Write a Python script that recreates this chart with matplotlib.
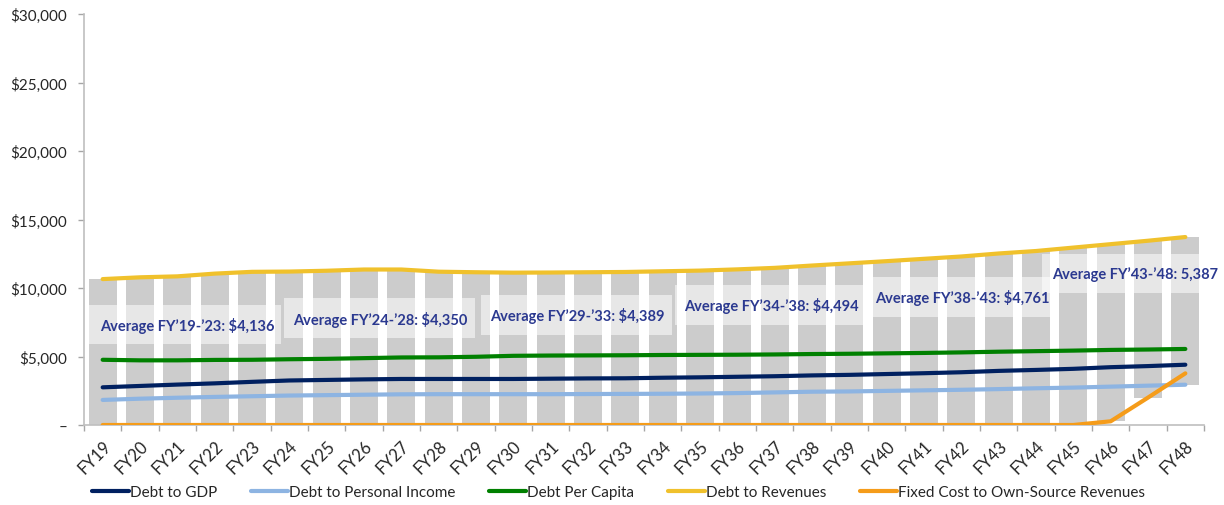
import matplotlib
matplotlib.use('Agg')
import matplotlib.pyplot as plt
import numpy as np
from matplotlib.patches import Rectangle
from matplotlib.ticker import FuncFormatter, FixedLocator

years = ['FY19', 'FY20', 'FY21', 'FY22', 'FY23', 'FY24', 'FY25', 'FY26', 'FY27', 'FY28',
         'FY29', 'FY30', 'FY31', 'FY32', 'FY33', 'FY34', 'FY35', 'FY36', 'FY37', 'FY38',
         'FY39', 'FY40', 'FY41', 'FY42', 'FY43', 'FY44', 'FY45', 'FY46', 'FY47', 'FY48']

debt_to_gdp = [2750, 2850, 2950, 3040, 3150, 3250, 3290, 3330, 3360, 3360,
               3360, 3360, 3380, 3400, 3410, 3450, 3480, 3520, 3560, 3620,
               3660, 3720, 3780, 3850, 3950, 4020, 4100, 4220, 4300, 4400]
debt_to_personal_income = [1830, 1920, 1990, 2050, 2100, 2150, 2180, 2210, 2240, 2250,
                           2250, 2250, 2250, 2260, 2270, 2280, 2300, 2330, 2380, 2430,
                           2450, 2490, 2530, 2570, 2620, 2680, 2730, 2800, 2870, 2940]
debt_per_capita = [4760, 4720, 4720, 4750, 4760, 4800, 4830, 4880, 4930, 4940,
                   4980, 5050, 5070, 5080, 5090, 5110, 5120, 5130, 5150, 5180,
                   5200, 5230, 5260, 5300, 5350, 5390, 5430, 5480, 5510, 5550]
debt_to_revenues = [10650, 10780, 10850, 11050, 11180, 11200, 11260, 11350, 11350, 11190,
                    11150, 11120, 11130, 11150, 11170, 11220, 11270, 11360, 11470, 11640,
                    11800, 11960, 12130, 12300, 12520, 12700, 12950, 13200, 13450, 13720]
fixed_cost_to_osr = [0, 0, 0, 0, 0, 0, 0, 0, 0, 0,
                     0, 0, 0, 0, 0, 0, 0, 0, 0, 0,
                     0, 0, 0, 0, 0, 0, 0, 270, 2000, 3770]

series_names = ['Debt to GDP', 'Debt to Personal Income', 'Debt Per Capita',
                'Debt to Revenues', 'Fixed Cost to Own-Source Revenues']
series_values = [debt_to_gdp, debt_to_personal_income, debt_per_capita,
                 debt_to_revenues, fixed_cost_to_osr]
series_colors = ['#002060', '#8db4e2', '#008000', '#f0c12c', '#f59c1a']

avg_labels = ['Average FY\u201919-\u201923: $4,136', 'Average FY\u201924-\u201928: $4,350',
              'Average FY\u201929-\u201933: $4,389', 'Average FY\u201934-\u201938: $4,494',
              'Average FY\u201938-\u201943: $4,761', 'Average FY\u201943-\u201948: 5,387']
avg_label_x = [2.27, 7.43, 12.72, 17.90, 23.03, 27.65]
avg_label_y = [7300, 7740, 8030, 8760, 9344, 11020]
# box extents (x0, x1, y0, y1) in data units
avg_boxes = [(-0.37, 4.78, 5910, 8760), (4.86, 9.97, 6350, 9270), (10.13, 15.25, 6570, 9490),
             (15.33, 20.39, 7300, 10220), (20.63, 25.40, 7880, 10800), (25.16, 29.39, 9640, 12480)]

plt.rcParams['font.family'] = ['Lato', 'DejaVu Sans']

W, H = 1224, 506
fig = plt.figure(figsize=(W / 100, H / 100), dpi=100)
ax = fig.add_axes([84 / W, 1 - 426 / H, 1120 / W, 411 / H])

x = np.arange(len(years))
arr = np.array(series_values, dtype=float)
lo = arr.min(axis=0)
hi = arr.max(axis=0)
ax.bar(x, hi - lo, bottom=lo, width=0.75, color='#cccccc', zorder=1, linewidth=0)

for (x0, x1, y0, y1) in avg_boxes:
    ax.add_patch(Rectangle((x0, y0), x1 - x0, y1 - y0, facecolor='white', alpha=0.55,
                           edgecolor='none', zorder=2))
for lab, tx, ty in zip(avg_labels, avg_label_x, avg_label_y):
    ax.text(tx, ty, lab, ha='center', va='center', fontsize=10.5, fontweight='bold',
            color='#2b3990', zorder=4, clip_on=False)

for name, vals, col in zip(series_names, series_values, series_colors):
    ax.plot(x, vals, color=col, lw=3, label=name, zorder=3, solid_capstyle='round')

ax.set_xlim(-0.5, len(years) - 0.5)
ax.set_ylim(0, 30000)
ax.set_yticks(np.arange(0, 30001, 5000))
ax.yaxis.set_major_formatter(FuncFormatter(lambda v, p: '\u2013' if v == 0 else f'${v:,.0f}'))
ax.set_xticks(x)
ax.set_xticklabels(years, rotation=45, ha='right', va='top', rotation_mode='anchor')
ax.xaxis.set_minor_locator(FixedLocator(np.arange(-0.5, len(years), 1.0)))
ax.tick_params(axis='x', which='major', length=0, pad=9, labelsize=12, labelcolor='#262626')
ax.tick_params(axis='x', which='minor', length=4, color='#a6a6a6', width=1)
ax.tick_params(axis='y', which='major', length=4, color='#a6a6a6', width=1, pad=8,
               labelsize=11, labelcolor='#262626')

for s in ['top', 'right']:
    ax.spines[s].set_visible(False)
for s in ['left', 'bottom']:
    ax.spines[s].set_color('#bfbfbf')
    ax.spines[s].set_linewidth(1.2)

handles, labels = ax.get_legend_handles_labels()
fig.legend(handles, labels, loc='center left', bbox_to_anchor=(92 / W, 1 - 493 / H),
           ncol=5, frameon=False, fontsize=11, handlelength=2.4, handletextpad=0.1,
           columnspacing=2.2, borderpad=0, borderaxespad=0, labelcolor='#262626')

fig.savefig('out.png', dpi=100)
